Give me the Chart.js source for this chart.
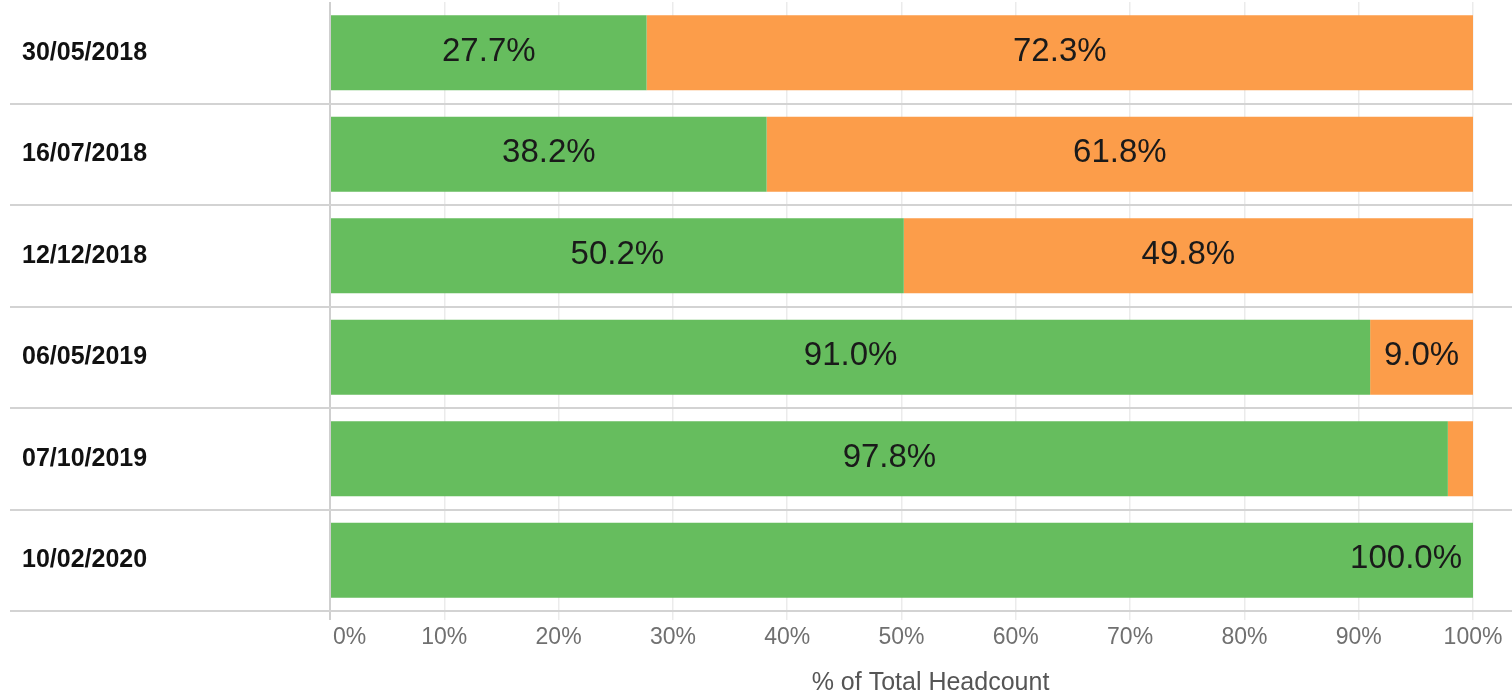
<!DOCTYPE html>
<html>
<head>
<meta charset="utf-8">
<script src="https://cdn.jsdelivr.net/npm/chart.js@4"></script>
<style>
  html, body { margin: 0; padding: 0; background: #fff; }
  #wrap { width: 1512px; height: 698px; }
</style>
</head>
<body>
<div id="wrap"><canvas id="HeadcountChart"></canvas></div>
<script>
var dates = ['30/05/2018', '16/07/2018', '12/12/2018', '06/05/2019', '07/10/2019', '10/02/2020'];
var greenShare = [27.7, 38.2, 50.2, 91.0, 97.8, 100.0];
var orangeShare = [72.3, 61.8, 49.8, 9.0, 2.2, 0];
var xTicks = [0, 10, 20, 30, 40, 50, 60, 70, 80, 90, 100];
var axisTitle = '% of Total Headcount';

var FONT = 'Arial, "Liberation Sans", sans-serif';

// row separators, x labels, axis title and the value labels
var extras = {
    id: 'extras',
    afterDraw: function (chart) {
        var c = chart.ctx;
        var x = chart.scales.x;
        var y = chart.scales.y;
        var area = chart.chartArea;
        c.save();

        c.strokeStyle = '#d3d3d3';
        c.lineWidth = 2;
        for (var i = 0; i < dates.length; i++) {
            var py = Math.round(y.getPixelForValue(i + 0.5));
            c.beginPath();
            c.moveTo(10, py);
            c.lineTo(chart.width, py);
            c.stroke();
        }

        c.font = '23px ' + FONT;
        c.fillStyle = '#707070';
        c.textBaseline = 'middle';
        xTicks.forEach(function (v) {
            var px = x.getPixelForValue(v);
            if (v === 0) {
                c.textAlign = 'left';
                c.fillText(v + '%', px + 3, area.bottom + 27);
            } else {
                c.textAlign = 'center';
                c.fillText(v + '%', px, area.bottom + 27);
            }
        });

        c.font = '25px ' + FONT;
        c.fillStyle = '#555555';
        c.textAlign = 'center';
        c.fillText(axisTitle, (area.left + area.right) / 2 + 29, chart.height - 15);

        c.font = '33px ' + FONT;
        c.fillStyle = '#1a1a1a';
        chart.data.datasets.forEach(function (ds, di) {
            chart.getDatasetMeta(di).data.forEach(function (bar, j) {
                var v = ds.data[j];
                if (v < 5) return;
                var p = bar.getProps(['x', 'base', 'y'], true);
                var txt = v.toFixed(1) + '%';
                if (v >= 99.95) {
                    c.textAlign = 'right';
                    c.fillText(txt, p.x - 11, p.y - 1);
                } else {
                    c.textAlign = 'center';
                    c.fillText(txt, (p.x + p.base) / 2, p.y - 1);
                }
            });
        });
        c.restore();
    }
};

var ctx = document.getElementById('HeadcountChart');
var chart = new Chart(ctx, {
    type: 'bar',
    data: {
        labels: dates,
        datasets: [{
            label: 'Green',
            data: greenShare,
            backgroundColor: '#66bd5e',
            borderWidth: 0
        },
        {
            label: 'Orange',
            data: orangeShare,
            backgroundColor: '#fc9d4a',
            borderWidth: 0
        }]
    },
    options: {
        indexAxis: 'y',
        responsive: true,
        maintainAspectRatio: false,
        animation: false,
        categoryPercentage: 1,
        barPercentage: 0.74,
        layout: {
            padding: { left: 22, right: 39, top: 2, bottom: 0 }
        },
        plugins: {
            legend: { display: false },
            tooltip: { enabled: false }
        },
        scales: {
            x: {
                stacked: true,
                min: 0,
                max: 100,
                ticks: { display: false, stepSize: 10 },
                grid: {
                    color: function (c) { return c.index === 0 ? '#cfcfcf' : '#ebebeb'; },
                    lineWidth: function (c) { return c.index === 0 ? 2 : 1.5; },
                    tickLength: 9
                },
                border: { display: false },
                afterFit: function (scale) {
                    scale.height = 87;
                    scale.paddingLeft = 0;
                    scale.paddingRight = 0;
                }
            },
            y: {
                stacked: true,
                grid: { display: false },
                border: { display: false },
                ticks: {
                    color: '#111111',
                    crossAlign: 'far',
                    padding: 0,
                    font: { family: FONT, size: 25, weight: 'bold' }
                },
                afterFit: function (scale) {
                    scale.width = 308;
                    scale.paddingTop = 0;
                    scale.paddingBottom = 0;
                }
            }
        }
    },
    plugins: [extras]
});
</script>
</body>
</html>
